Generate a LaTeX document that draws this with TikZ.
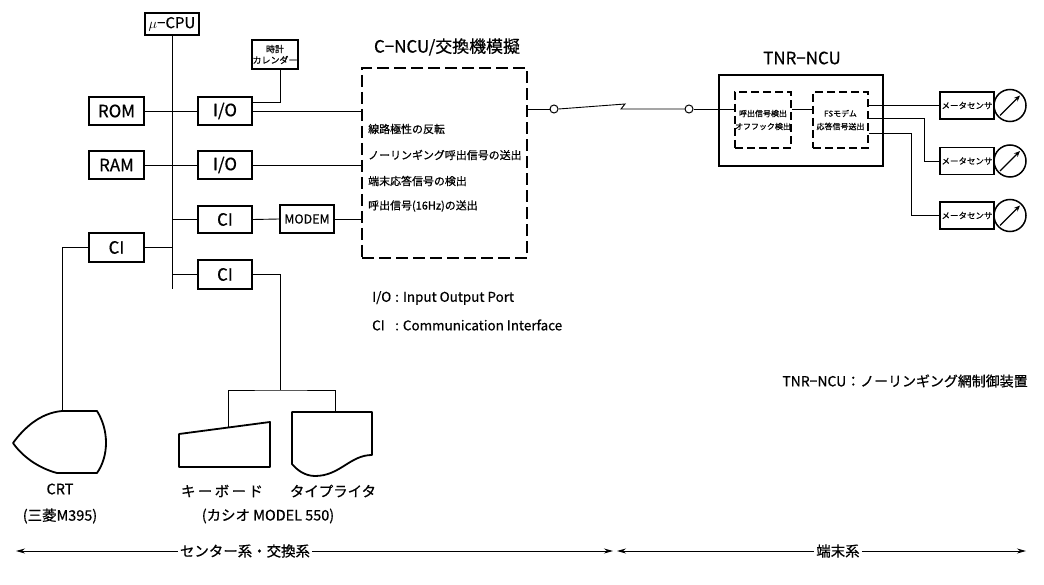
\documentclass[tikz,border=0pt]{standalone}
\usepackage{fontspec}
\setmainfont{Noto Sans CJK JP}[FakeBold=0.6]
\usetikzlibrary{calc,arrows.meta}
\newcommand\myfs[1]{\fontsize{#1}{#1}\selectfont}
\begin{document}
\begin{tikzpicture}[x=1bp,y=-1bp,
  blk/.style={draw,line width=1.8bp,inner sep=0pt,minimum width=54bp,minimum height=28bp,font=\myfs{17}},
  dbox/.style={draw,line width=2.2bp,dash pattern=on 8bp off 4bp,inner sep=0pt},
  wire/.style={line width=0.9bp},
  sensor/.style={blk,minimum width=54bp,minimum height=27bp,font=\myfs{8.5}},
  meter/.style={draw,circle,line width=1.5bp,minimum size=32bp,inner sep=0pt},
  sw/.style={draw,circle,line width=1bp,minimum size=8bp,inner sep=0pt},
  device/.style={line width=1.8bp,line join=round},
  lbl/.style={inner sep=0pt,font=\myfs{14.5}},
  span/.style={wire,-{Stealth[length=9bp,width=5bp]}},
]
\fill[white] (0,0) rectangle (1044,585);
\useasboundingbox (0,0) rectangle (1044,585);

% ---- centre computer ----
\node[blk,minimum height=22bp,font=\myfs{15}] (cpu) at (172,24) {$\mu$−CPU};
\node[blk,minimum width=46bp,minimum height=29bp,font={\fontsize{9}{11}\selectfont},align=center] (clock) at (275,54.5) {時計\\カレンダー};
\node[blk,minimum width=55bp] (rom) at (116.5,111) {ROM};
\node[blk] (io1) at (225,111) {I/O};
\node[blk,minimum width=55bp] (ram) at (116.5,165) {RAM};
\node[blk] (io2) at (225,165) {I/O};
\node[blk,minimum height=27bp] (ci1) at (225,219.5) {CI};
\node[blk,font=\myfs{12.5}] (modem) at (307,219) {MODEM};
\node[blk,minimum width=55bp,minimum height=29bp] (ci0) at (116.5,247.5) {CI};
\node[blk,minimum height=29bp] (ci2) at (225,274.5) {CI};
\coordinate (busend) at (172,289);

% ---- exchange simulator ----
\node[dbox,dash pattern=on 12bp off 5bp,minimum width=165bp,minimum height=190bp] (cncu) at (444.5,163) {};
\node[lbl,font=\myfs{17}] (cncut) at (447,47) {C−NCU/交換機模擬};
\node[lbl,anchor=west,font=\myfs{11}] (f1) at (368,129) {線路極性の反転};
\node[lbl,anchor=west,font=\myfs{11}] (f2) at (368,155) {ノーリンギング呼出信号の送出};
\node[lbl,anchor=west,font=\myfs{11}] (f3) at (368,181) {端末応答信号の検出};
\node[lbl,anchor=west,font=\myfs{11}] (f4) at (368,206) {呼出信号(16Hz)の送出};

% ---- bus and links ----
\draw[wire] (cpu.south) -- (busend);
\draw[wire] (rom.east) -- (io1.west);
\draw[wire] (ram.east) -- (io2.west);
\draw[wire] (ci1.west) -- (ci1.west -| cpu.south);
\draw[wire] (ci0.east) -- (ci0.east -| cpu.south);
\draw[wire] (ci2.west) -- (ci2.west -| cpu.south);
\draw[wire] (ci1.east) -- (modem.west);
\draw[wire] (modem.east) -- (modem.east -| cncu.west);
\draw[wire] (io1.east) -- (io1.east -| cncu.west);
\draw[wire] (io2.east) -- (io2.east -| cncu.west);
\draw[wire] ($(io1.north east)+(0,6)$) -| ($(clock.south)+(5,0)$);

% ---- terminals ----
\coordinate (crttop) at (62,411);
\draw[device] (crttop) -- (97,411) .. controls (109,430) and (109,456) .. (97,473)
  -- (57,473) .. controls (38,468) and (22,456) .. (13,443)
  .. controls (24,428) and (40,413) .. cycle;
\draw[wire] (ci0.west) -| (crttop);

\draw[device] (179,434) -- (270,422) -- (270,467) -- (179,467) -- cycle;
\draw[device] (292,412) -- (372,412) -- (372,455)
  .. controls (350,455) and (340,476) .. (315,476)
  .. controls (305,476) and (297,470) .. (292,464) -- cycle;
\coordinate (kbtop) at (228,427.5);
\coordinate (twtop) at (335,412);
\coordinate (split) at (280,390);
\draw[wire] (ci2.east) -| (split);
\draw[wire] (kbtop) |- (split) -| (twtop);

\node[lbl] (crtl) at (60,489) {CRT};
\node[lbl] (crtm) at (60,516) {(三菱M395)};
\node[lbl] (kbl) at (222,491) {キ\,ー\,ボ\,ー\,ド};
\node[lbl] (twl) at (333,491) {タイプライタ};
\node[lbl] (casio) at (268,516) {(カシオ MODEL 550)};

% ---- legend ----
\node[lbl,anchor=west,font=\myfs{13.5}] (lg1) at (372,298) {\makebox[23bp][l]{I/O}: Input Output Port};
\node[lbl,anchor=west,font=\myfs{13.5}] (lg2) at (372,325) {\makebox[23bp][l]{CI}: Communication Interface};
\node[lbl,font=\myfs{14}] (tnrl) at (905,381) {TNR−NCU：ノーリンギング網制御装置};

% ---- line and terminal NCU ----
\node[sw] (c1) at (554,109) {};
\node[sw] (c2) at (689,109) {};
\coordinate (z1) at (625,104);
\coordinate (z2) at (621,109);
\draw[wire] (cncu.east |- c1) -- (c1.west);
\draw[wire] (c1.east) -- (z1) -- (z2) -- (c2.west);

\node[blk,line width=1.3bp,minimum width=164bp,minimum height=91bp] (tnr) at (801,120.5) {};
\node[lbl,font=\myfs{17}] (tnrt) at (802,58) {TNR−NCU};
\node[dbox,minimum width=56bp,minimum height=56bp,align=center,font={\fontsize{8}{13}\selectfont}] (d1) at (763,120) {呼出信号検出\\オフフック検出};
\node[dbox,minimum width=55bp,minimum height=56bp,align=center,font={\fontsize{8}{13}\selectfont}] (d2) at (840.5,120) {FSモデム\\応答信号送出};
\draw[wire] (c2.east) -- (d1.west |- c2);
\draw[wire] (d1.east |- c2) -- (d2.west |- c2);

\node[sensor] (ms1) at (967,105.5) {メータセンサ};
\node[sensor] (ms2) at (967,161) {メータセンサ};
\node[sensor] (ms3) at (967,215.5) {メータセンサ};
\node[meter] (m1) at (1010,105.5) {};
\node[meter] (m2) at (1010,161) {};
\node[meter] (m3) at (1010,215.5) {};
\foreach \m in {m1,m2,m3}
  \draw[line width=1.2bp,-{Stealth[length=6bp,width=5bp]}] ($(\m)+(-10,10)$) -- ($(\m)+(10,-10)$);

\draw[wire] (d2.east |- ms1.west) -- (ms1.west);
\draw[wire] ($(d2.east)+(0,-2)$) -| ($(ms2.west)+(-15,0)$) -- (ms2.west);
\draw[wire] ($(d2.east)+(0,13)$) -| ($(ms3.west)+(-28,0)$) -- (ms3.west);

% ---- system spans ----
\coordinate (a1l) at (16,551);
\coordinate (a1r) at (613,551);
\coordinate (a2l) at (617,551);
\coordinate (a2r) at (1026,551);
\node[lbl,inner xsep=2bp] (sys1) at (245,551) {センター系・交換系};
\node[lbl,inner xsep=2bp] (sys2) at (838,551) {端末系};
\draw[span] (sys1.west) -- (a1l);
\draw[span] (sys1.east) -- (a1r);
\draw[span] (sys2.west) -- (a2l);
\draw[span] (sys2.east) -- (a2r);
\end{tikzpicture}
\end{document}
